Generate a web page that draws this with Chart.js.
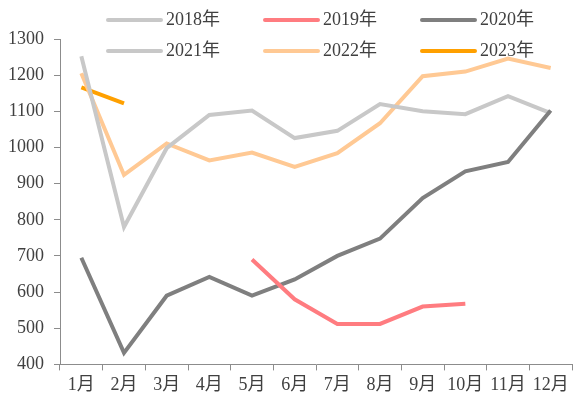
<!DOCTYPE html>
<html>
<head>
<meta charset="utf-8">
<script src="https://cdn.jsdelivr.net/npm/chart.js@4.4.1/dist/chart.umd.min.js"></script>
<style>
    html, body { margin: 0; padding: 0; background: #ffffff; }
    #chart { display: block; }
</style>
</head>
<body>
<canvas id="chart" width="577" height="401"></canvas>
<script>
const months = ['1月', '2月', '3月', '4月', '5月', '6月', '7月', '8月', '9月', '10月', '11月', '12月'];
const yearLabels = ['2018年', '2019年', '2020年', '2021年', '2022年', '2023年'];
const yearColors = ['#c8c8c8', '#ff7c80', '#7f7f7f', '#c8c8c8', '#ffc994', '#ffa000'];

const values2018 = [null, null, null, null, null, null, null, null, null, null, null, null];
const values2019 = [null, null, null, null, 690, 580, 512, 512, 560, 568, null, null];
const values2020 = [695, 432, 590, 642, 590, 635, 700, 748, 860, 934, 960, 1102];
const values2021 = [1252, 780, 998, 1090, 1102, 1026, 1046, 1120, 1100, 1092, 1142, 1095];
const values2022 = [1205, 924, 1011, 964, 986, 946, 984, 1067, 1197, 1210, 1246, 1220];
const values2023 = [1166, 1122, null, null, null, null, null, null, null, null, null, null];

const yTicks = [400, 500, 600, 700, 800, 900, 1000, 1100, 1200, 1300];

const FONT = "'Liberation Serif', 'Times New Roman', 'Noto Sans CJK SC', serif";
const TEXT = '#404040';
const AXIS = '#8c8c8c';

const allValues = [values2018, values2019, values2020, values2021, values2022, values2023];

// legend sits on top of the plot, 3 per row, so it is drawn by hand
const overlayLegend = {
    id: 'overlayLegend',
    afterDraw(chart) {
        const ctx = chart.ctx;
        ctx.save();
        ctx.font = '18px ' + FONT;
        ctx.textBaseline = 'middle';
        ctx.textAlign = 'left';
        chart.data.datasets.forEach((ds, i) => {
            const col = i % 3;
            const row = Math.floor(i / 3);
            const x = 108 + col * 157;
            const y = 20 + row * 31;
            ctx.strokeStyle = ds.borderColor;
            ctx.lineWidth = 4;
            ctx.lineCap = 'round';
            ctx.beginPath();
            ctx.moveTo(x, y);
            ctx.lineTo(x + 53, y);
            ctx.stroke();
            ctx.fillStyle = TEXT;
            ctx.fillText(ds.label, x + 58, y);
        });
        ctx.restore();
    }
};

const ctx = document.getElementById('chart').getContext('2d');
new Chart(ctx, {
    type: 'line',
    data: {
        labels: months,
        datasets: yearLabels.map((label, i) => ({
            label: label,
            data: allValues[i],
            borderColor: yearColors[i],
            backgroundColor: yearColors[i],
            borderWidth: 4,
            pointRadius: 0,
            tension: 0,
            fill: false,
            spanGaps: false
        }))
    },
    options: {
        responsive: false,
        animation: false,
        layout: {
            padding: { left: -2, right: 5, top: 39, bottom: 1 }
        },
        plugins: {
            legend: { display: false },
            tooltip: { enabled: false }
        },
        scales: {
            x: {
                offset: true,
                grid: {
                    offset: true,
                    drawOnChartArea: false,
                    drawTicks: true,
                    tickLength: 6,
                    color: AXIS
                },
                border: { color: AXIS, width: 1 },
                ticks: {
                    color: TEXT,
                    padding: 4,
                    maxRotation: 0,
                    autoSkip: false,
                    font: { family: FONT, size: 18 }
                }
            },
            y: {
                min: 400,
                max: 1300,
                afterBuildTicks: axis => {
                    axis.ticks = yTicks.map(v => ({ value: v }));
                },
                grid: {
                    drawOnChartArea: false,
                    drawTicks: true,
                    tickLength: 6,
                    color: AXIS
                },
                border: { color: AXIS, width: 1 },
                ticks: {
                    color: TEXT,
                    padding: 10,
                    callback: v => String(v),
                    font: { family: FONT, size: 18 }
                }
            }
        }
    },
    plugins: [overlayLegend]
});
</script>
</body>
</html>
